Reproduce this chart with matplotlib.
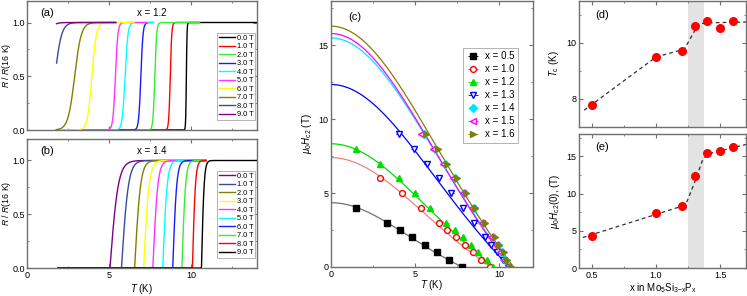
import numpy as np
import matplotlib
matplotlib.use("Agg")
import matplotlib.pyplot as plt

plt.rcParams['font.family'] = ['Liberation Sans', 'DejaVu Sans']
plt.rcParams['mathtext.fontset'] = 'custom'
plt.rcParams['mathtext.rm'] = 'Liberation Sans'
plt.rcParams['mathtext.it'] = 'Liberation Sans:italic'
plt.rcParams['font.size'] = 7

W, H = 747, 296
SPINE = '#707070'

# ---------------- data ----------------
fields = ['0.0 T', '1.0 T', '2.0 T', '3.0 T', '4.0 T', '5.0 T', '6.0 T', '7.0 T', '8.0 T', '9.0 T']
colors_a = ['#000000', '#ff0000', '#33ee33', '#1a1aff', '#00ffff', '#ff33ff', '#ffff00', '#808000', '#3a4aa0', '#800080']
colors_b = colors_a[::-1]
# panel (a) x = 1.2: transition midpoint, width, end temperature
a_tmid = [9.70, 8.72, 7.78, 6.93, 5.97, 5.38, 3.95, 2.90, 1.70, 0.90]
a_width = [0.04, 0.09, 0.11, 0.13, 0.17, 0.15, 0.27, 0.40, 0.40, 0.40]
a_tend = [14.0, 10.5, 10.5, 7.7, 7.7, 7.3, 6.5, 5.4, 5.4, 5.4]
# panel (b) x = 1.4: onset temperature, width
b_t0 = [5.05, 5.75, 6.55, 7.10, 7.66, 8.26, 8.87, 9.43, 10.07, 10.62]
b_width = [0.50, 0.42, 0.36, 0.33, 0.30, 0.27, 0.24, 0.22, 0.18, 0.16]
b_tend = [10.9, 10.9, 10.9, 10.9, 10.9, 10.9, 10.9, 10.9, 10.9, 14.0]

# panel (c)
c_labels = ['x = 0.5', 'x = 1.0', 'x = 1.2', 'x = 1.3', 'x = 1.4', 'x = 1.5', 'x = 1.6']
c_colors = ['#000000', '#ff0000', '#00dd00', '#0000ff', '#00e5ff', '#ff00ff', '#808000']
c_fitcolors = ['#707070', '#f08080', '#00dd00', '#0000ff', '#00e5ff', '#ff00ff', '#808000']
c_markers = ['s', 'o', '^', 'v', 'D', '<', '>']
c_filled = [True, False, True, False, True, False, True]
T05 = [1.48, 3.35, 4.08, 4.81, 5.56, 6.27, 7.00, 7.79]
H05 = [4.0, 3.0, 2.5, 2.0, 1.5, 1.0, 0.5, 0.0]
T10 = [2.94, 4.24, 5.37, 6.41, 6.92, 7.40, 7.95, 8.46, 8.90, 9.45]
H10 = [6.0, 5.0, 4.0, 3.0, 2.5, 2.0, 1.5, 1.0, 0.5, 0.0]
T12 = [1.48, 2.94, 4.02, 5.01, 5.90, 6.85, 7.34, 7.83, 8.32, 8.72, 9.25, 9.65]
H12 = [8.0, 7.0, 6.0, 5.0, 4.0, 3.0, 2.5, 2.0, 1.5, 1.0, 0.5, 0.0]
T13 = [4.02, 4.93, 5.70, 6.39, 7.14, 7.83, 8.52, 9.15, 9.50, 9.86, 10.20, 10.50]
H13 = [9.0, 8.0, 7.0, 6.0, 5.0, 4.0, 3.0, 2.0, 1.5, 1.0, 0.5, 0.0]
T14 = [5.50, 6.18, 6.76, 7.36, 7.93, 8.47, 9.05, 9.60, 9.90, 10.15, 10.36, 10.60]
H14 = [9.0, 8.0, 7.0, 6.0, 5.0, 4.0, 3.0, 2.0, 1.5, 1.0, 0.5, 0.0]
T15 = [5.37, 6.05, 6.64, 7.24, 7.83, 8.38, 8.96, 9.50, 9.80, 10.06, 10.26, 10.50]
H15 = [9.0, 8.0, 7.0, 6.0, 5.0, 4.0, 3.0, 2.0, 1.5, 1.0, 0.5, 0.0]
T16 = [5.66, 6.35, 6.90, 7.50, 8.03, 8.58, 9.15, 9.74, 10.00, 10.26, 10.46, 10.70]
H16 = [9.0, 8.0, 7.0, 6.0, 5.0, 4.0, 3.0, 2.0, 1.5, 1.0, 0.5, 0.0]
c_T = [T05, T10, T12, T13, T14, T15, T16]
c_H = [H05, H10, H12, H13, H14, H15, H16]
# GL fit parameters
fit_H0 = [4.35, 7.4, 8.34, 12.35, 15.5, 15.8, 16.3]
fit_Tc = [7.8, 9.5, 9.72, 10.6, 10.75, 10.65, 10.85]

# panels (d), (e)
x_comp = [0.5, 1.0, 1.2, 1.3, 1.4, 1.5, 1.6]
Tc_vals = [7.8, 9.5, 9.7, 10.6, 10.77, 10.55, 10.78]
Hc2_vals = [4.3, 7.4, 8.34, 12.3, 15.4, 15.75, 16.24]
d_guide_x = [0.44, 1.0, 1.22, 1.33, 1.40, 1.70]
d_guide_y = [7.6, 9.5, 9.78, 10.68, 10.72, 10.75]
e_guide_x = [0.43, 1.0, 1.2, 1.24, 1.30, 1.36, 1.40, 1.70]
e_guide_y = [4.1, 7.2, 8.3, 8.9, 11.5, 14.4, 15.3, 16.6]
band = [1.25, 1.37]

# ---------------- figure ----------------
fig = plt.figure(figsize=(W / 100, H / 100), dpi=100)


def ax_px(l, t, r, b):
    return fig.add_axes([l / W, 1 - b / H, (r - l) / W, (b - t) / H])


def style(ax):
    for s in ax.spines.values():
        s.set_color(SPINE)
        s.set_linewidth(1.0)
    ax.tick_params(which='both', direction='in', top=True, right=True,
                   color=SPINE, labelsize=6.5, pad=2)
    ax.tick_params(which='major', length=3)
    ax.tick_params(which='minor', length=1.5)


axa = ax_px(27, 1, 257, 130)
axb = ax_px(27, 139, 257, 268)
axc = ax_px(331, 1, 533, 267)
axd = ax_px(579, 1, 746, 127)
axe = ax_px(579, 134, 746, 268)

# (a)
for i in range(len(fields)):
    T = np.linspace(1.8, a_tend[i], 600)
    R = 0.5 * (1 + np.tanh((T - a_tmid[i]) / a_width[i]))
    axa.plot(T, R, color=colors_a[i], lw=1.0, label=fields[i])
# (b)
for i in range(len(fields)):
    T = np.linspace(1.9, b_tend[i], 800)
    R = np.tanh(np.clip(T - b_t0[i], 0, None) / b_width[i])
    axb.plot(T, R, color=colors_b[i], lw=1.0, label=fields[i])

for ax, lab, xl in [(axa, '(a)', 'x = 1.2'), (axb, '(b)', 'x = 1.4')]:
    style(ax)
    ax.tick_params(axis='y', pad=1.5)
    ax.set_xlim(0, 14)
    ax.set_ylim(0, 1.2)
    ax.set_xticks([0, 5, 10])
    ax.set_xticks([2.5, 7.5, 12.5], minor=True)
    ax.set_yticks([0, 0.5, 1.0])
    ax.set_yticks([0.25, 0.75], minor=True)
    ax.set_yticklabels(['0.0', '0.5', '1.0'])
    ax.set_ylabel(r'$R$ / $R$(16 K)', fontsize=6.3)
    ax.yaxis.set_label_coords(-0.062, 0.5)
    ax.text(1.25, 1.085, lab, fontsize=8, ha='center', va='center')
    ax.text(7.6, 1.09, xl, fontsize=7, ha='center', va='center')
    leg = ax.legend(loc='upper left', bbox_to_anchor=(0.825, 0.755), fontsize=5.3,
                    handlelength=2.2, handletextpad=0.2, labelspacing=0.18,
                    borderpad=0.3, borderaxespad=0, frameon=True, fancybox=False)
    leg.get_frame().set_edgecolor('#a0a0a0')
    leg.get_frame().set_linewidth(0.7)
axa.tick_params(labelbottom=False)
axb.set_xlabel(r'$T$ (K)', fontsize=7)
axb.xaxis.set_label_coords(0.5, -0.11)

# (c)
style(axc)
for i in range(len(c_labels)):
    Tc, H0 = fit_Tc[i], fit_H0[i]
    Tf = np.linspace(0, Tc, 300)
    t2 = (Tf / Tc) ** 2
    axc.plot(Tf, H0 * (1 - t2) / (1 + t2), color=c_fitcolors[i], lw=0.9, zorder=2)
for i in range(len(c_labels)):
    fc = c_colors[i] if c_filled[i] else 'white'
    ms = 4.2 if c_markers[i] != 'D' else 3.6
    axc.errorbar(c_T[i], c_H[i], xerr=0.15, fmt=c_markers[i], ms=ms,
                 mfc=fc, mec=c_colors[i], mew=1.0, ecolor=c_colors[i],
                 elinewidth=0.6, capsize=0, label=c_labels[i], zorder=3 + i * 0.01)
axc.set_xlim(0, 12)
axc.set_ylim(0, 18)
axc.set_xticks([0, 5, 10])
axc.set_xticks([2.5, 7.5], minor=True)
axc.set_yticks([0, 5, 10, 15])
axc.set_yticks([2.5, 7.5, 12.5, 17.5], minor=True)
axc.set_xlabel(r'$T$ (K)', fontsize=7)
axc.xaxis.set_label_coords(0.5, -0.04)
axc.set_ylabel(r'$\mu_0H_{\mathrm{c2}}$ (T)', fontsize=7, labelpad=3)
axc.text(1.42, 16.9, '(c)', fontsize=8, ha='center', va='center')
leg = axc.legend(loc='upper left', bbox_to_anchor=(0.655, 0.825), fontsize=7,
                 handletextpad=0.6, labelspacing=0.3, borderpad=0.4,
                 borderaxespad=0, frameon=True, fancybox=False, handlelength=1.2)
leg.get_frame().set_edgecolor('#a0a0a0')
leg.get_frame().set_linewidth(0.7)

# (d), (e)
for ax, vals, gx, gy in [(axd, Tc_vals, d_guide_x, d_guide_y),
                         (axe, Hc2_vals, e_guide_x, e_guide_y)]:
    style(ax)
    ax.axvspan(band[0], band[1], color='#e3e3e3', lw=0, zorder=0)
    ax.plot(gx, gy, '--', color='#303030', lw=0.9, dashes=(3, 2.5), zorder=2)
    ax.plot(x_comp, vals, 'o', color='#ff0000', ms=5.5, mec='#ff0000', zorder=3)
    ax.set_xlim(0.4, 1.7)
    ax.set_xticks([0.5, 1.0, 1.5])
    ax.set_xticks([0.75, 1.25], minor=True)

axd.set_ylim(7, 11.5)
axd.set_yticks([8, 10])
axd.set_yticks([7, 9, 11], minor=True)
axd.tick_params(labelbottom=False)
axd.set_ylabel(r'$T_{\mathrm{c}}$ (K)', fontsize=7, labelpad=4)
axd.text(0.58, 11.0, '(d)', fontsize=8, ha='center', va='center')

axe.set_ylim(0, 18)
axe.set_yticks([0, 5, 10, 15])
axe.set_yticks([2.5, 7.5, 12.5, 17.5], minor=True)
axe.set_xticklabels(['0.5', '1.0', '1.5'])
axe.set_ylabel(r'$\mu_0H_{\mathrm{c2}}(0)$, (T)', fontsize=7, labelpad=3)
axe.set_xlabel(r'x in Mo$_5$Si$_{3\mathrm{-x}}$P$_\mathrm{x}$', fontsize=7)
axe.xaxis.set_label_coords(0.5, -0.1)
axe.text(0.58, 16.3, '(e)', fontsize=8, ha='center', va='center')

fig.savefig('out.png', dpi=100)
